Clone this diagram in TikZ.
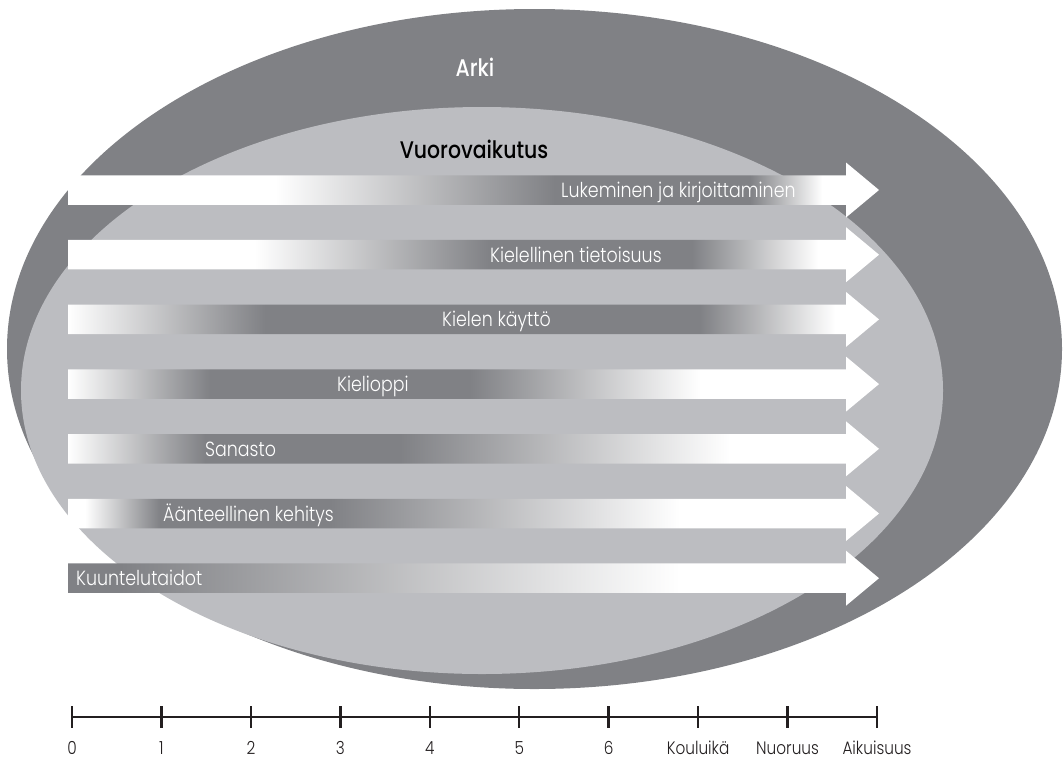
\documentclass[tikz,border=0pt]{standalone}
\usepackage{fontspec}
\newfontfamily\lightf{Poppins Light}[FakeStretch=0.85]
\newfontfamily\medf{Poppins Medium}[FakeStretch=0.85]
\definecolor{dk}{RGB}{128,129,133}
\definecolor{lt}{RGB}{188,189,193}
\definecolor{ax}{RGB}{35,31,32}
% stops: bp = 25 + (x-68)*50/811
\pgfdeclarehorizontalshading{sh1}{100bp}{color(0bp)=(white); color(37.76bp)=(white); color(55.02bp)=(dk); color(67.05bp)=(dk); color(71.49bp)=(white); color(100bp)=(white)}
\pgfdeclarehorizontalshading{sh2}{100bp}{color(0bp)=(white); color(36.53bp)=(white); color(51.02bp)=(dk); color(63.47bp)=(dk); color(71.24bp)=(white); color(100bp)=(white)}
\pgfdeclarehorizontalshading{sh3}{100bp}{color(0bp)=(white); color(25bp)=(white); color(37.15bp)=(dk); color(63.96bp)=(dk); color(72.29bp)=(white); color(100bp)=(white)}
\pgfdeclarehorizontalshading{sh4}{100bp}{color(0bp)=(white); color(25bp)=(white); color(33.75bp)=(dk); color(49.78bp)=(dk); color(63.96bp)=(white); color(100bp)=(white)}
\pgfdeclarehorizontalshading{sh5}{100bp}{color(0bp)=(white); color(25bp)=(white); color(33.45bp)=(dk); color(45.47bp)=(dk); color(65.81bp)=(white); color(100bp)=(white)}
\pgfdeclarehorizontalshading{sh6}{100bp}{color(0bp)=(white); color(26.05bp)=(white); color(30.67bp)=(dk); color(41.15bp)=(dk); color(62.73bp)=(white); color(100bp)=(white)}
\pgfdeclarehorizontalshading{sh7}{100bp}{color(0bp)=(dk); color(28.21bp)=(dk); color(62.73bp)=(white); color(100bp)=(white)}
\begin{document}
\begin{tikzpicture}[x=1pt,y=-1pt,
  lbl/.style={font=\lightf\fontsize{20.5}{24}\selectfont, text=white, anchor=base west, inner sep=0pt},
  title/.style={font=\medf\fontsize{24}{28}\selectfont, anchor=base, inner sep=0pt},
  axlbl/.style={font=\lightf\fontsize{18}{20}\selectfont, text=ax, anchor=base, inner sep=0pt},
  axline/.style={draw=ax, line width=2.5pt}]
\useasboundingbox (0,0) rectangle (1064,761);
% ellipses
\fill[dk] (534.5,349) ellipse [x radius=527.5, y radius=340];
\fill[lt] (482,390.5) ellipse [x radius=461, y radius=283.5];
% titles
\node[title, text=white] (arki) at (475,76) {Arki};
\node[title, text=black] (vuoro) at (474,158) {Vuorovaikutus};
% arrows
\foreach \i/\y in {1/190,2/254.7,3/319.4,4/384.1,5/448.8,6/513.5,7/578.2}{
  \path[shading=sh\i] (68,\y-14.75) -- (846,\y-14.75) -- (846,\y-27.5) -- (879,\y)
     -- (846,\y+27.5) -- (846,\y+14.75) -- (68,\y+14.75) -- cycle;
}
\node[lbl] (t1) at (561,197.5) {Lukeminen ja kirjoittaminen};
\node[lbl] (t2) at (490,262.2) {Kielellinen tietoisuus};
\node[lbl] (t3) at (442,326.9) {Kielen käyttö};
\node[lbl] (t4) at (337,391.6) {Kielioppi};
\node[lbl] (t5) at (205,456.3) {Sanasto};
\node[lbl] (t6) at (163,521) {Äänteellinen kehitys};
\node[lbl] (t7) at (76,585.7) {Kuuntelutaidot};
% axis
\draw[axline] (72,717) -- (877,717);
\foreach \k/\t in {0/0,1/1,2/2,3/3,4/4,5/5,6/6,7/Kouluikä,8/Nuoruus,9/Aikuisuus}{
  \draw[axline] (72+89.444*\k,706) -- (72+89.444*\k,728);
  \node[axlbl] (lab\k) at (72+89.444*\k,754.5) {\t};
}
\end{tikzpicture}
\end{document}
